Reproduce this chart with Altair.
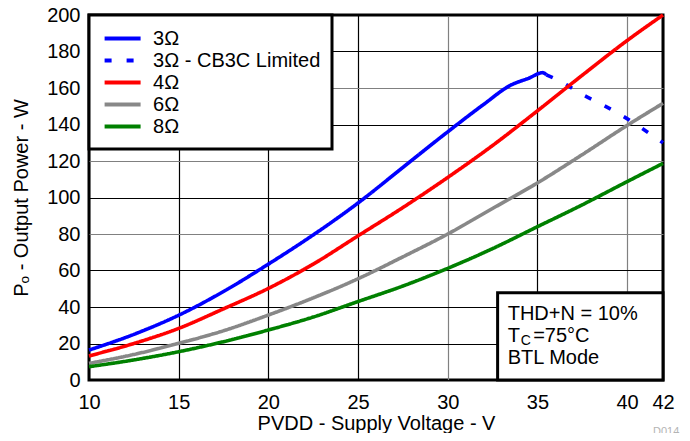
import altair as alt
import pandas as pd

# ---------------- data ----------------
series_names = ["3Ω", "3Ω - CB3C Limited", "4Ω", "6Ω", "8Ω"]
series_colors = ["#0000ff", "#0000ff", "#ff0000", "#888888", "#008000"]
series_dash = [[1, 0], [7, 15], [1, 0], [1, 0], [1, 0]]

v_3ohm = [10, 12.5, 15, 17.5, 20, 22.5, 25, 27.5, 30, 32, 33.5, 34.5, 35.3, 35.5]
p_3ohm = [16.4, 25, 35.5, 48.5, 63.5, 79.5, 97, 116.5, 136, 151, 161.5, 165.3, 168.4, 167.2]

v_3ohm_lim = [35.5, 36.4, 37.5, 38.6, 39.7, 40.75, 42]
p_3ohm_lim = [167.2, 163, 156.5, 151, 145, 138.4, 130]

v_common = [10, 12.5, 15, 17.5, 20, 22.5, 25, 27.5, 30, 32.5, 35, 37.5, 40, 42]
p_4ohm = [13.2, 20, 28.3, 39, 50.2, 63.5, 79, 94.5, 111, 128.5, 147.5, 167, 186, 200]
p_6ohm = [9.1, 14, 20.1, 27, 35.6, 45, 55.5, 67.5, 80, 94, 108, 123.5, 139.5, 151.6]
p_8ohm = [7.3, 11, 15.5, 21, 27.4, 34.5, 43, 51.5, 61.2, 72, 84, 96, 108.7, 118.7]

x_ticks = [10, 15, 20, 25, 30, 35, 40, 42]
y_ticks = [0, 20, 40, 60, 80, 100, 120, 140, 160, 180, 200]

note_lines = ["THD+N = 10%", "BTL Mode"]
note_x = [33.34, 33.34]
note_y = [36.0, 12.0]
note_box = {"x": [32.78], "x2": [42], "y": [0], "y2": [47.8]}

# ---------------- build table ----------------
rows = []
for v, p in zip(v_3ohm, p_3ohm):
    rows.append({"series": series_names[0], "v": v, "p": p})
for v, p in zip(v_3ohm_lim, p_3ohm_lim):
    rows.append({"series": series_names[1], "v": v, "p": p})
for name, vals in zip(series_names[2:], [p_4ohm, p_6ohm, p_8ohm]):
    for v, p in zip(v_common, vals):
        rows.append({"series": name, "v": v, "p": p})
df = pd.DataFrame(rows)

FONT = "Liberation Sans"

x_scale = alt.Scale(domain=[10, 42], nice=False, zero=False)
y_scale = alt.Scale(domain=[0, 200], nice=False, zero=True)

grid_x = alt.condition("datum.value == 30 || datum.value == 40",
                       alt.value("#808080"), alt.value("#000000"))
grid_y = alt.condition("datum.value == 160 || datum.value == 120 || datum.value == 80",
                       alt.value("#808080"), alt.value("#000000"))

x_axis = alt.Axis(values=x_ticks, title="PVDD - Supply Voltage - V",
                  gridColor=grid_x, labelPadding=12, titlePadding=1,
                  labelOverlap=False, labelFlush=False)
y_axis = alt.Axis(values=y_ticks, tickCount=11, title="Pₒ - Output Power - W",
                  gridColor=grid_y, labelPadding=9, titlePadding=15,
                  labelOverlap=False, labelFlush=False, labelBound=False)

lines = alt.Chart(df).mark_line(strokeWidth=3.6, interpolate="monotone").encode(
    x=alt.X("v:Q", scale=x_scale, axis=x_axis),
    y=alt.Y("p:Q", scale=y_scale, axis=y_axis),
    color=alt.Color("series:N", scale=alt.Scale(domain=series_names, range=series_colors),
                    legend=alt.Legend(title=None)),
    strokeDash=alt.StrokeDash("series:N", scale=alt.Scale(domain=series_names, range=series_dash),
                              legend=alt.Legend(title=None)),
    detail="series:N",
)

bx = alt.X("x:Q", scale=x_scale, axis=x_axis)
by = alt.Y("y:Q", scale=y_scale, axis=y_axis)

box = alt.Chart(pd.DataFrame(note_box)).mark_rect(
    fill="white", stroke="black", strokeWidth=3
).encode(x=bx, x2="x2:Q", y=by, y2="y2:Q")

note_df = pd.DataFrame({"x": note_x, "y": note_y, "t": note_lines})
notes = alt.Chart(note_df).mark_text(
    align="left", baseline="middle", fontSize=20, font=FONT, color="black"
).encode(x=bx, y=by, text="t:N")

tc_df = pd.DataFrame({"x": [33.34], "y": [24.0]})
tc_T = alt.Chart(tc_df).mark_text(align="left", baseline="middle", fontSize=20,
                                  font=FONT, color="black", text="T").encode(x=bx, y=by)
tc_C = alt.Chart(tc_df).mark_text(align="left", baseline="middle", fontSize=14, dx=13, dy=5,
                                  font=FONT, color="black", text="C").encode(x=bx, y=by)
tc_rest = alt.Chart(tc_df).mark_text(align="left", baseline="middle", fontSize=20, dx=25.5,
                                     font=FONT, color="black", text="=75°C").encode(x=bx, y=by)

wm = alt.Chart(pd.DataFrame({"t": ["D014"]})).mark_text(
    align="left", baseline="middle", fontSize=11, font=FONT, color="#b4b4b4"
).encode(x=alt.value(564), y=alt.value(417), text="t:N")

chart = alt.layer(lines, box, notes, tc_T, tc_C, tc_rest, wm).properties(
    width=574, height=365,
    autosize=alt.AutoSizeParams(type="none"),
    padding={"left": 81, "top": 7, "right": 19, "bottom": 53},
).configure_view(
    stroke="black", strokeWidth=3
).configure_axis(
    labelFont=FONT, titleFont=FONT, labelFontSize=20, titleFontSize=20,
    titleFontWeight="normal", labelColor="black", titleColor="black",
    ticks=False, domain=False, gridWidth=1.2, gridOpacity=1,
).configure_legend(
    orient="top-left", offset=0, padding=11.6,
    strokeColor="black", fillColor="white", strokeWidth=3,
    symbolType="M-0.8,0H2.8", symbolSize=400, symbolStrokeWidth=4,
    labelFont=FONT, labelFontSize=20, labelColor="black", labelLimit=400,
    labelOffset=28.5, rowPadding=0,
)

chart.save("out.html", embed_options={"renderer": "svg", "actions": False})
